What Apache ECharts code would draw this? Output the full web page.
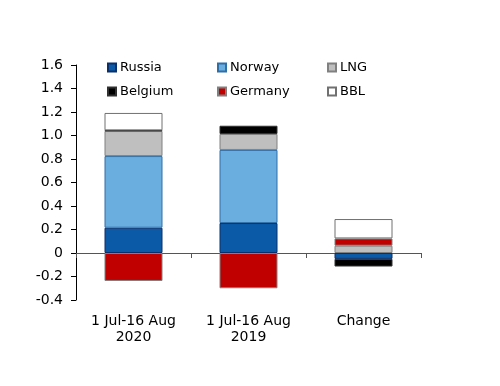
<!DOCTYPE html>
<html>
<head>
<meta charset="utf-8">
<script src="https://cdn.jsdelivr.net/npm/echarts@6/dist/echarts.min.js"></script>
<style>html,body{margin:0;padding:0;background:#fff;}#c{width:500px;height:386px;}</style>
</head>
<body>
<div id="c"></div>
<script>
var categories = ['1 Jul-16 Aug\n2020', '1 Jul-16 Aug\n2019', 'Change'];
var russia  = [0.215, 0.255, -0.050];
var norway  = [0.610, 0.622, 0];
var lng     = [0.213, 0.136, 0.062];
var belgium = [0.006, 0.070, -0.065];
var germany = [-0.238, -0.300, 0.062];
var bbl     = [0.148, 0, 0.165];
var yTicks = [-0.4, -0.2, 0, 0.2, 0.4, 0.6, 0.8, 1.0, 1.2, 1.4, 1.6];

var FONT = 'DejaVu Sans';
function clean(a){ return a.map(function(v){ return v === 0 ? null : v; }); }
var seriesDefs = [
  {name:'Russia', data:russia, color:'#0a5aa8', border:'#0b2f6b'},
  {name:'Norway', data:norway, color:'#6aaddf', border:'#2f6fa8'},
  {name:'LNG', data:lng, color:'#bfbfbf', border:'#808080'},
  {name:'Belgium', data:belgium, color:'#000000', border:'#303030'},
  {name:'Germany', data:germany, color:'#c00000', border:'#808080'},
  {name:'BBL', data:bbl, color:'#ffffff', border:'#707070'}
];
var legendPos = [[107,61],[217,61],[327,61],[107,85],[217,85],[327,85]];
var chart = echarts.init(document.getElementById('c'), null, {renderer:'canvas'});
chart.setOption({
  animation:false,
  backgroundColor:'#fff',
  textStyle:{fontFamily:FONT},
  grid:{left:76, right:79, top:65, bottom:86, containLabel:false, outerBoundsMode:'none'},
  legend: seriesDefs.map(function(s,i){
    return {data:[s.name], left:legendPos[i][0], top:legendPos[i][1], padding:0,
      itemWidth:8, itemHeight:8, itemGap:0, icon:'rect',
      textStyle:{fontFamily:FONT, fontSize:13, color:'#000', padding:[0,0,0,-1]}};
  }),
  xAxis:{type:'category', data:categories,
    axisLine:{onZero:true, lineStyle:{color:'#555', width:1}},
    axisTick:{show:true, length:5, lineStyle:{color:'#555'}},
    axisLabel:{margin:13, fontFamily:FONT, fontSize:14, color:'#000', lineHeight:16},
    splitLine:{show:false}},
  yAxis:{type:'value', min:-0.4, max:1.6, interval:0.2,
    axisLine:{show:true, lineStyle:{color:'#000', width:1}},
    axisTick:{show:true, length:5, lineStyle:{color:'#000'}},
    axisLabel:{margin:13, fontFamily:FONT, fontSize:14, color:'#000',
      formatter:function(v){ var r=Math.round(v*10)/10; return r===0?'0':r.toFixed(1);} },
    splitLine:{show:false}},
  series: seriesDefs.map(function(s){
    return {name:s.name, type:'bar', stack:'total', barWidth:58, data:clean(s.data),
      itemStyle:{color:s.color, borderColor:s.border, borderWidth:1}};
  })
});
</script>
</body>
</html>
